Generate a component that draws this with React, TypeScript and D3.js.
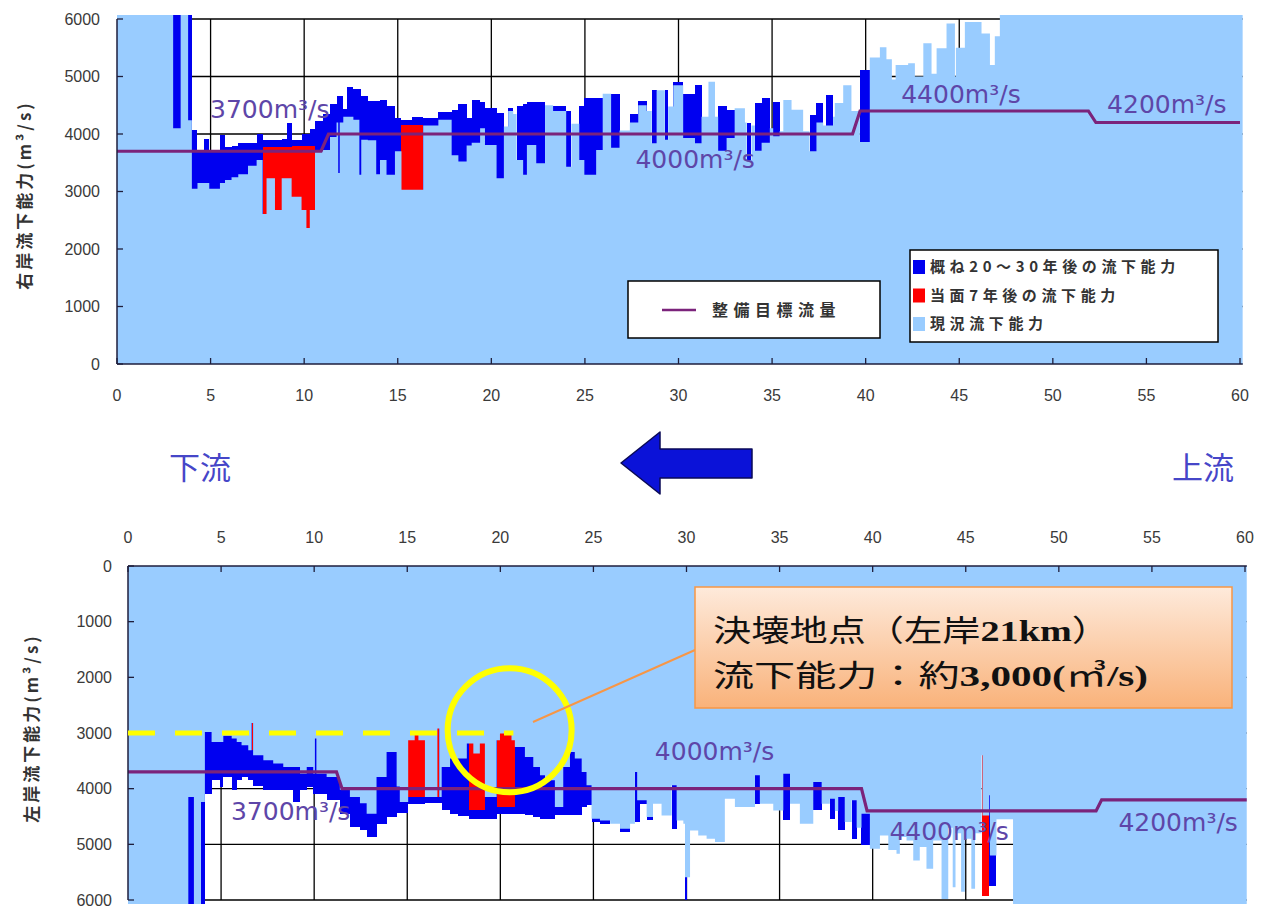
import React from 'react';
import * as d3 from 'd3';

type Step = [number, number];
type Bar = [number, number, number];

const kmTicks = [0, 5, 10, 15, 20, 25, 30, 35, 40, 45, 50, 55, 60];
const flowTicks = [0, 1000, 2000, 3000, 4000, 5000, 6000];

// ---- Right bank (top panel) ----
const rightCurrent: Step[] = [
  [0, 6500], [3.0, 4100], [3.4, 6500], [3.8, 4240], [4.0, 3050], [4.3, 3150], [4.65, 3150], [4.93, 3050],
  [5.5, 3150], [5.77, 3200], [6.12, 3250], [6.48, 3300], [7.0, 3450], [7.46, 3550], [7.78, 2610], [7.99, 3230],
  [8.44, 2680], [8.8, 3230], [9.33, 2910], [9.86, 2680], [10.12, 2365], [10.3, 2680], [10.58, 3700], [11.0, 3720],
  [11.38, 3950], [11.73, 4200], [11.82, 3320], [11.9, 4200], [12.09, 4300], [12.63, 4250], [12.95, 3290], [13.05, 3900],
  [13.4, 3890], [13.85, 3300], [14.05, 3550], [14.4, 3290], [14.85, 3700], [15.2, 3030], [16.36, 4150], [17.17, 4250],
  [17.88, 3630], [18.24, 3520], [18.68, 3800], [18.95, 3850], [19.4, 4100], [19.66, 3810], [20.28, 3230], [20.67, 4130],
  [20.9, 4400], [21.17, 4350], [21.35, 3550], [21.7, 3290], [21.9, 3810], [22.4, 3490], [22.87, 4500], [23.3, 4400],
  [24.0, 3430], [24.28, 4180], [24.7, 3550], [24.97, 3290], [25.6, 3720], [25.95, 4700], [26.4, 3760], [26.85, 4060],
  [27.4, 4200], [27.85, 4500], [28.3, 4400], [28.57, 3840], [28.83, 4760], [29.27, 3900], [29.45, 4480], [29.72, 4850],
  [30.25, 3930], [30.88, 3840], [31.23, 4300], [31.6, 4910], [31.95, 4300], [32.12, 3710], [32.57, 3930], [33.0, 4450],
  [33.55, 4200], [33.64, 3550], [33.9, 4150], [34.08, 3710], [34.44, 3850], [34.88, 4100], [35.06, 3960], [35.4, 4050],
  [35.6, 4590], [36.04, 4420], [36.66, 4050], [37.0, 3700], [37.37, 4200], [37.73, 4150], [38.26, 4300], [38.35, 4540],
  [38.8, 4850], [39.24, 4400], [39.69, 3860], [40.22, 5330], [40.76, 5510], [41.11, 5300], [41.4, 4950], [41.6, 5200],
  [42.27, 5230], [42.63, 5000], [43.08, 5580], [43.52, 5050], [43.79, 5490], [44.32, 5920], [44.77, 5000], [44.82, 5500],
  [45.3, 5950], [46.19, 5750], [46.64, 5200], [46.9, 5700], [47.17, 6500],
];

const rightPlan30: Bar[] = [
  [3.0, 3.4, 6500], [3.8, 4.0, 6500], [4.0, 4.3, 4070], [4.3, 4.65, 3700], [4.65, 4.93, 3920], [4.93, 5.5, 3720],
  [5.5, 5.77, 3980], [5.77, 6.12, 3780], [6.12, 6.48, 3800], [6.48, 7.46, 3850], [7.46, 7.78, 4000], [7.78, 8.8, 3900],
  [8.8, 9.06, 3920], [9.06, 9.33, 4200], [9.33, 9.86, 3900], [9.86, 10.3, 4000], [10.3, 10.58, 4080], [10.58, 11.0, 4220],
  [11.0, 11.38, 4350], [11.38, 11.73, 4520], [11.73, 12.09, 4660], [12.09, 12.3, 4430], [12.3, 12.63, 4820],
  [12.63, 13.05, 4780], [13.05, 13.4, 4660], [13.4, 14.05, 4570], [14.05, 14.4, 4590], [14.4, 14.85, 4480],
  [14.85, 15.2, 4270], [15.2, 15.74, 4240], [15.74, 16.36, 4300], [16.36, 17.17, 4270], [17.17, 17.88, 4390],
  [17.88, 18.24, 4420], [18.24, 18.68, 4520], [18.68, 18.95, 4270], [18.95, 19.4, 4590], [19.4, 19.66, 4560],
  [19.66, 20.28, 4460], [20.28, 20.67, 4370], [20.9, 21.17, 4460], [21.35, 21.7, 4490], [21.7, 21.9, 4520],
  [21.9, 22.87, 4550], [23.3, 24.0, 4490], [24.0, 24.28, 4400], [24.7, 24.97, 4490], [24.97, 25.95, 4620],
  [26.4, 26.85, 4700], [27.4, 27.85, 4350], [27.85, 28.3, 4570], [28.57, 28.83, 4760], [29.27, 29.45, 4760],
  [29.72, 30.25, 4910], [30.25, 30.88, 4700], [30.88, 31.23, 4850], [32.12, 32.57, 4480], [32.57, 33.0, 4420],
  [33.64, 33.9, 4200], [34.08, 34.44, 4540], [34.44, 34.88, 4620], [35.06, 35.4, 4560], [37.0, 37.37, 4330],
  [37.37, 37.73, 4540], [37.9, 38.26, 4680], [39.69, 40.22, 5110],
];

const rightPlan7: Bar[] = [
  [7.78, 9.33, 3780], [9.33, 10.58, 3800], [15.2, 16.36, 4150],
];

const rightTarget: Step[] = [
  [0, 3700], [10.9, 3700], [11.3, 4000], [39.3, 4000], [39.7, 4400], [51.9, 4400], [52.3, 4200], [60, 4200],
];

// ---- Left bank (bottom panel) ----
const leftCurrent: Step[] = [
  [0, 6500], [3.24, 4150], [3.54, 6500], [3.92, 4240], [4.13, 2980], [4.49, 3160], [5.12, 3050], [5.57, 3100],
  [5.84, 3160], [6.1, 3220], [6.46, 3310], [6.64, 2820], [6.72, 3400], [7.27, 3490], [7.8, 3550], [8.34, 3610],
  [9.24, 3730], [9.6, 3610], [9.95, 3730], [10.04, 3100], [10.12, 3730], [10.67, 3790], [11.38, 4020], [11.92, 4150],
  [12.46, 4260], [12.82, 4450], [13.35, 3790], [13.89, 3340], [14.43, 3960], [14.6, 4240], [15.05, 3130], [15.4, 3010],
  [15.6, 3130], [15.95, 4150], [16.62, 2920], [16.72, 4150], [16.85, 3610], [17.3, 3460], [18.2, 3190], [18.55, 3370],
  [18.9, 3190], [19.17, 4150], [19.8, 3130], [19.98, 3010], [20.6, 3130], [20.78, 3250], [21.32, 3430], [21.77, 3610],
  [22.13, 3760], [22.4, 3850], [22.93, 4330], [23.38, 3610], [23.74, 3340], [24.0, 3460], [24.37, 3700], [24.63, 3940],
  [24.9, 4540], [25.35, 4570], [25.9, 4630], [26.43, 4720], [26.97, 4630], [27.23, 3700], [27.35, 4210], [27.86, 4510],
  [28.2, 4270], [28.66, 4480], [29.2, 3940], [29.47, 4570], [29.83, 4630], [29.92, 5590], [30.19, 4750], [30.63, 4840],
  [31.08, 4900], [31.53, 4960], [32.06, 4180], [32.6, 4330], [33.68, 3760], [33.94, 4270], [34.66, 4390], [35.2, 3730],
  [35.56, 4270], [36.09, 4630], [36.81, 3880], [37.26, 4270], [37.7, 4180], [37.97, 4400], [38.15, 4150], [38.5, 4600],
  [38.87, 4210], [39.14, 4700], [39.4, 4450], [39.85, 5080], [40.39, 4840], [40.84, 5100], [41.28, 5170], [41.46, 4870],
  [41.82, 4930], [42.18, 5290], [42.53, 5050], [42.89, 5440], [43.25, 4930], [43.7, 5980], [44.06, 4700], [44.3, 5770],
  [44.45, 4800], [44.75, 5850], [44.95, 4900], [45.3, 5800], [45.5, 4800], [45.85, 3400], [45.9, 4480], [46.26, 4120],
  [46.3, 5200], [46.65, 4550], [47.54, 6500],
];

const leftPlan30: Bar[] = [
  [3.24, 3.54, 6500], [3.92, 4.13, 6500], [4.13, 4.49, 4090], [4.49, 4.94, 3850], [4.94, 5.12, 3970], [5.12, 5.57, 3790],
  [5.57, 5.84, 4020], [5.84, 6.1, 3850], [6.1, 6.46, 3790], [6.46, 6.73, 3850], [6.73, 7.27, 3950], [7.27, 8.88, 4020],
  [8.88, 9.24, 4240], [9.24, 9.6, 4020], [9.6, 9.95, 3970], [9.95, 10.67, 4100], [10.67, 11.38, 4210], [11.38, 11.92, 4450],
  [11.92, 12.46, 4690], [12.46, 12.82, 4750], [12.82, 13.35, 4870], [13.35, 13.89, 4630], [13.89, 14.43, 4510],
  [14.43, 15.05, 4440], [15.05, 15.95, 4270], [15.95, 16.85, 4250], [16.85, 17.3, 4390], [17.3, 17.74, 4450],
  [17.74, 18.3, 4490], [18.3, 19.8, 4540], [19.8, 21.32, 4450], [21.32, 21.77, 4480], [21.77, 22.13, 4510],
  [22.13, 22.93, 4540], [22.93, 24.37, 4480], [24.37, 24.63, 4330], [24.63, 24.9, 4300], [24.9, 25.35, 4600],
  [25.35, 25.9, 4630], [26.43, 26.97, 4780], [27.23, 27.5, 4600], [27.5, 27.86, 4270], [27.86, 28.2, 4570],
  [29.2, 29.47, 4720], [29.92, 30.0, 6000], [33.68, 33.94, 4270], [35.2, 35.56, 4570], [36.81, 37.26, 4390],
  [37.7, 37.97, 4540], [38.15, 38.5, 4750], [38.87, 39.14, 4900], [39.4, 39.85, 5020], [46.26, 46.65, 5740],
];

const leftPlan7: Bar[] = [
  [6.64, 6.72, 3310], [15.05, 15.95, 4150], [16.62, 16.72, 4150], [18.3, 19.17, 4390], [19.8, 20.78, 4330],
  [45.85, 46.26, 5920],
];

const leftTarget: Step[] = [
  [0, 3700], [11.2, 3700], [11.5, 4000], [39.4, 4000], [39.7, 4400], [52.0, 4400], [52.3, 4200], [60.1, 4200],
];

// target-flow labels: [flow, km of text start]; and flow level of the text baseline
const rightLabels: Step[] = [[3700, 4.97], [4000, 27.7], [4400, 41.9], [4200, 52.9]];
const rightLabelLevels = [4280, 3410, 4540, 4365];
const leftLabels: Step[] = [[3700, 5.53], [4000, 28.3], [4400, 40.9], [4200, 53.2]];
const leftLabelLevels = [4568, 3489, 4928, 4766];

const legendItems = ['概ね20～30年後の流下能力', '当面7年後の流下能力', '現況流下能力'];

const LIGHT = '#99CCFF';
const DARK = '#0000F0';
const RED = '#FF0000';
const TARGET = '#7B237B';
const LABEL = '#5E46A8';
const AXIS = '#1E1E3C';
const TICKTXT = '#3A3A3A';
const SANS = '"Liberation Sans", Arial, sans-serif';
const CJK = '"Noto Sans CJK JP", "Noto Sans", sans-serif';
const VERD = '"DejaVu Sans", Verdana, sans-serif';
const SERIF = '"Liberation Serif", serif';

function Panel(props: any) {
  const { id, x, y, current, plan30, plan7, target, labels, levels, end, axisTop, tickRight } = props;
  const vMax = 6070;
  const cl = (v: number) => Math.min(v, vMax);
  const x0 = x(0), xe = x(end);
  const ya = y(0), yb = y(vMax);
  const clipY = Math.min(ya, yb), clipH = Math.abs(yb - ya);
  const pts: Step[] = [...current, [end, current[current.length - 1][1]]];
  const area = d3.area<Step>().x(d => x(d[0])).y0(ya).y1(d => y(cl(d[1]))).curve(d3.curveStepAfter);
  const line = d3.line<Step>().x(d => x(d[0])).y(d => y(d[1]));
  const bar = (b: Bar, i: number, fill: string) => {
    const yv = y(cl(b[2]));
    return <rect key={i} x={x(b[0])} width={x(b[1]) - x(b[0])} y={Math.min(ya, yv)} height={Math.abs(yv - ya)} fill={fill} shapeRendering="crispEdges" />;
  };
  const tickDir = axisTop ? 1 : -1;
  return (
    <g>
      <defs>
        <clipPath id={id}><rect x={x0} y={clipY} width={xe - x0} height={clipH} /></clipPath>
      </defs>
      <rect x={x0} y={clipY} width={xe - x0} height={clipH} fill="#fff" />
      <g clipPath={`url(#${id})`}>
        {flowTicks.filter(v => v > 0).map(v => (
          <line key={'h' + v} x1={x0} x2={xe} y1={y(v)} y2={y(v)} stroke="#000" strokeWidth={1.3} />
        ))}
        {kmTicks.filter(k => k > 0 && k < 60).map(k => (
          <line key={'v' + k} x1={x(k)} x2={x(k)} y1={ya} y2={y(6000)} stroke="#000" strokeWidth={1.3} />
        ))}
        {plan30.map((b: Bar, i: number) => bar(b, i, DARK))}
        {plan7.map((b: Bar, i: number) => bar(b, i, RED))}
        <path d={area(pts) || ''} fill={LIGHT} />
        <path d={line(target) || ''} fill="none" stroke={TARGET} strokeWidth={3.2} />
      </g>
      <line x1={x0} x2={x0} y1={ya} y2={y(6000)} stroke={AXIS} strokeWidth={1.5} />
      <line x1={x0} x2={xe} y1={ya} y2={ya} stroke={AXIS} strokeWidth={1.5} />
      {flowTicks.map(v => (
        <line key={'yt' + v} x1={x0} x2={x0 + 6} y1={y(v)} y2={y(v)} stroke={AXIS} strokeWidth={1.3} />
      ))}
      {kmTicks.map(k => (
        <line key={'xt' + k} x1={x(k)} x2={x(k)} y1={ya} y2={ya + tickDir * 6} stroke={AXIS} strokeWidth={1.3} />
      ))}
      {flowTicks.map(v => (
        <text key={'yl' + v} x={x0 - tickRight} y={y(v)} dy="0.36em" textAnchor="end" fontFamily={SANS} fontSize={16} fill={TICKTXT}>{v}</text>
      ))}
      {kmTicks.map(k => (
        <text key={'xl' + k} x={x(k)} y={axisTop ? ya - 23 : ya + 37} textAnchor="middle" fontFamily={SANS} fontSize={16} fill={TICKTXT}>{k}</text>
      ))}
      {labels.map((l: Step, i: number) => (
        <text key={'lb' + i} x={x(l[1])} y={y(levels[i])} fontFamily={VERD} fontSize={25} fill={LABEL}>{`${l[0]}m³/s`}</text>
      ))}
    </g>
  );
}

export default function App() {
  const W = 1268, H = 909;
  const xR = d3.scaleLinear().domain([0, 60]).range([117, 1240]);
  const yR = d3.scaleLinear().domain([0, 6000]).range([364, 19]);
  const xL = d3.scaleLinear().domain([0, 60]).range([128, 1245]);
  const yL = d3.scaleLinear().domain([0, 6000]).range([566, 900]);

  return (
    <svg width={W} height={H} viewBox={`0 0 ${W} ${H}`} style={{ position: 'absolute', left: 0, top: 0, display: 'block', background: '#fff' }}>
      <defs>
        <linearGradient id="calloutGrad" x1="0" y1="0" x2="0" y2="1">
          <stop offset="0%" stopColor="#FEEADB" />
          <stop offset="100%" stopColor="#F9B27A" />
        </linearGradient>
      </defs>

      <Panel id="clipR" x={xR} y={yR} current={rightCurrent} plan30={rightPlan30} plan7={rightPlan7}
        target={rightTarget} labels={rightLabels} levels={rightLabelLevels} end={60.15} axisTop={false} tickRight={17} />

      <rect x={628} y={281} width={252} height={57} fill="#fff" stroke="#000" strokeWidth={1.5} />
      <line x1={662} x2={696} y1={310} y2={310} stroke={TARGET} strokeWidth={2.5} />
      <text x={712} y={310} dy="0.35em" fontFamily={CJK} fontWeight="bold" fontSize={16} letterSpacing={5.5} fill="#333">整備目標流量</text>
      <rect x={910} y={250} width={308} height={92} fill="#fff" stroke="#000" strokeWidth={1.5} />
      {legendItems.map((t, i) => (
        <g key={t}>
          <rect x={913} y={260 + i * 28.5} width={12} height={14} fill={[DARK, RED, LIGHT][i]} />
          <text x={930} y={267 + i * 28.5} dy="0.35em" fontFamily={CJK} fontWeight="bold" fontSize={15} letterSpacing={4.6} fill="#333">{t}</text>
        </g>
      ))}

      <text transform="translate(31,195) rotate(-90)" textAnchor="middle" fontFamily={CJK} fontWeight="bold" fontSize={17} letterSpacing={3} fill="#333">
        右岸流下能力(m³/s)
      </text>
      <text transform="translate(38,728) rotate(-90)" textAnchor="middle" fontFamily={CJK} fontWeight="bold" fontSize={17} letterSpacing={3} fill="#333">
        左岸流下能力(m³/s)
      </text>

      <text x={200} y={468} dy="0.36em" textAnchor="middle" fontFamily={CJK} fontSize={31} fill="#4646C8">下流</text>
      <text x={1203} y={468} dy="0.36em" textAnchor="middle" fontFamily={CJK} fontSize={31} fill="#4646C8">上流</text>
      <path d="M621,463 L660,432 L660,449 L752,449 L752,478 L660,478 L660,494 Z" fill="#0B12D8" stroke="#0A0A55" strokeWidth={1.5} strokeLinejoin="round" />

      <Panel id="clipL" x={xL} y={yL} current={leftCurrent} plan30={leftPlan30} plan7={leftPlan7}
        target={leftTarget} labels={leftLabels} levels={leftLabelLevels} end={60.1} axisTop={true} tickRight={16} />

      <line x1={xL(0)} x2={xL(20.7)} y1={yL(3000)} y2={yL(3000)} stroke="#FFFF00" strokeWidth={5} strokeDasharray="27 20" />
      <ellipse cx={xL(20.5)} cy={yL(2950)} rx={62} ry={62} fill="none" stroke="#FFFF00" strokeWidth={6} />
      <line x1={695} y1={650} x2={533} y2={722} stroke="#F79646" strokeWidth={2} />
      <rect x={695} y={587} width={537} height={121} fill="url(#calloutGrad)" stroke="#F79646" strokeWidth={1.5} />
      <text x={713} y={641} fontFamily={CJK} fontSize={30} fill="#111" textLength={397} lengthAdjust="spacingAndGlyphs">
        決壊地点（左岸<tspan fontFamily={SERIF} fontWeight="bold">21km</tspan>）
      </text>
      <text x={713} y={686} fontFamily={CJK} fontSize={30} fill="#111" textLength={435} lengthAdjust="spacingAndGlyphs">
        流下能力：約<tspan fontFamily={SERIF} fontWeight="bold">3,000(</tspan>㎥<tspan fontFamily={SERIF} fontWeight="bold">/s)</tspan>
      </text>
    </svg>
  );
}
